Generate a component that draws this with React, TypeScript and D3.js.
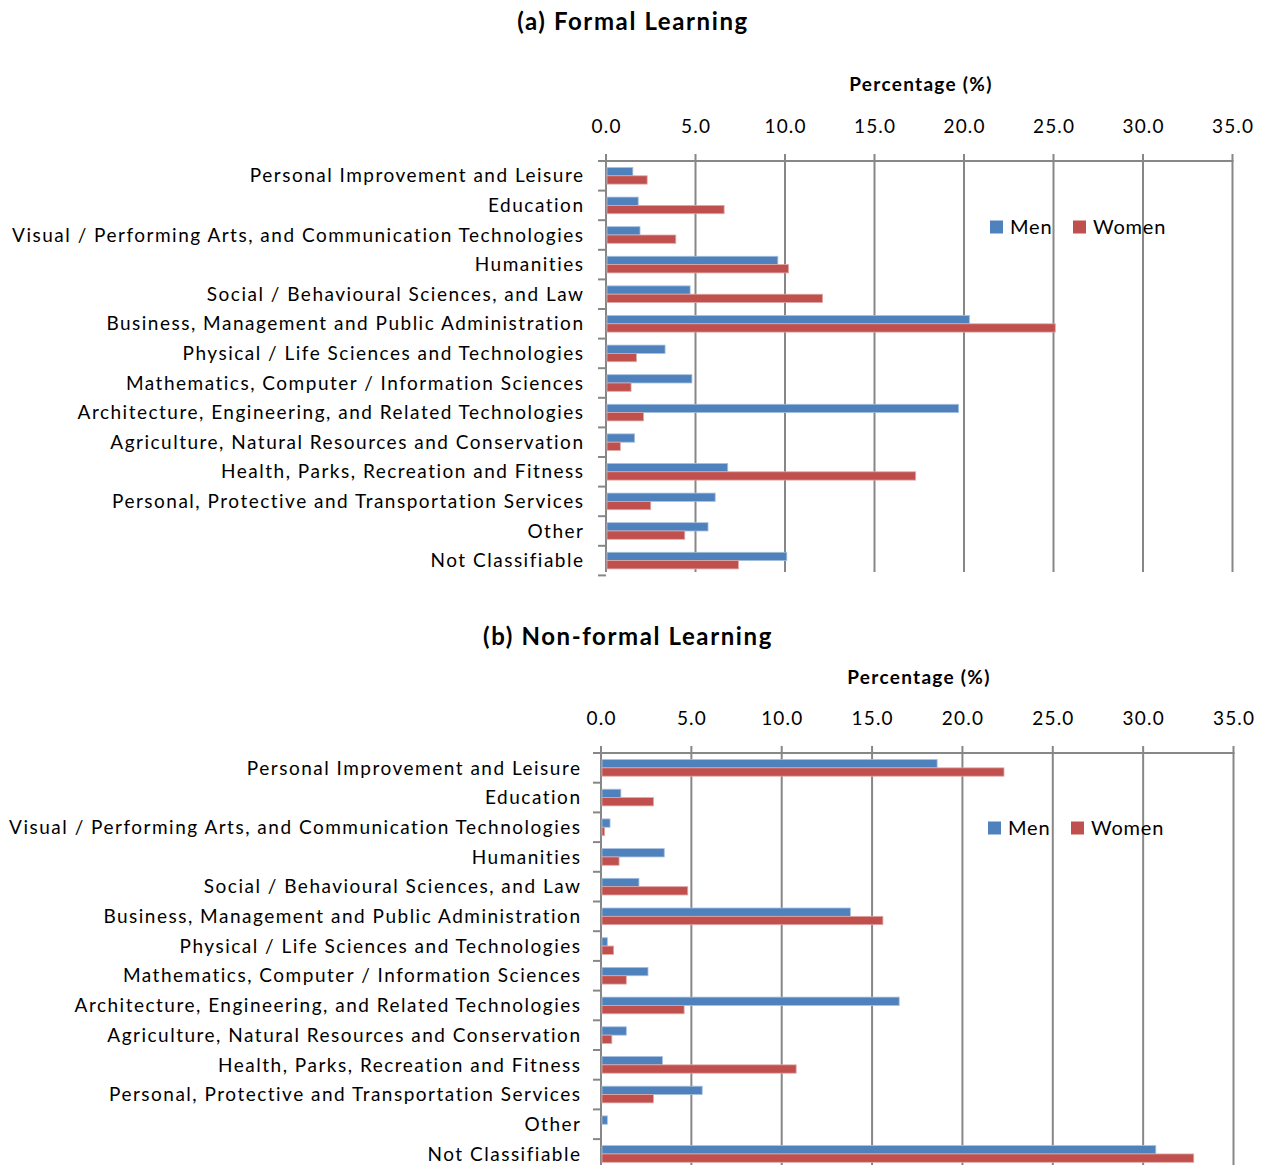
import React from "react";
import * as d3 from "d3";

const categories = [
  "Personal Improvement and Leisure",
  "Education",
  "Visual / Performing Arts, and Communication Technologies",
  "Humanities",
  "Social / Behavioural Sciences, and Law",
  "Business, Management and Public Administration",
  "Physical / Life Sciences and Technologies",
  "Mathematics, Computer  / Information Sciences",
  "Architecture, Engineering, and Related Technologies",
  "Agriculture, Natural Resources and Conservation",
  "Health, Parks, Recreation and Fitness",
  "Personal, Protective and Transportation Services",
  "Other",
  "Not Classifiable",
];

const series = ["Men", "Women"];

const formalMen = [1.5, 1.8, 1.9, 9.6, 4.7, 20.3, 3.3, 4.8, 19.7, 1.6, 6.8, 6.1, 5.7, 10.1];
const formalWomen = [2.3, 6.6, 3.9, 10.2, 12.1, 25.1, 1.7, 1.4, 2.1, 0.8, 17.3, 2.5, 4.4, 7.4];

const nonFormalMen = [18.6, 1.1, 0.5, 3.5, 2.1, 13.8, 0.35, 2.6, 16.5, 1.4, 3.4, 5.6, 0.35, 30.7];
const nonFormalWomen = [22.3, 2.9, 0.2, 1.0, 4.8, 15.6, 0.7, 1.4, 4.6, 0.6, 10.8, 2.9, 0.0, 32.8];

const xTicks = [0, 5, 10, 15, 20, 25, 30, 35];

const colors: Record<string, string> = { Men: "#4F81BD", Women: "#C0504D" };
const strokes: Record<string, string> = { Men: "#A7C0DE", Women: "#E0A8A6" };

const FONT = "Lato, 'Open Sans', sans-serif";
const GRID = "#878787";

type PanelProps = {
  title: string;
  titleX: number;
  titleY: number;
  axisTitleX: number;
  axisTitleY: number;
  tickY: number;
  x0: number;
  x1: number;
  top: number;
  step: number;
  gridBottom: number;
  labelX: number;
  legendX: number;
  legendY: number;
  men: number[];
  women: number[];
};

function Panel(p: PanelProps) {
  const x = d3.scaleLinear().domain([0, 35]).range([p.x0, p.x1]);
  const bottom = p.top + p.step * categories.length;
  const y = d3.scaleBand<string>().domain(categories).range([p.top, bottom]).padding(0);
  const inner = d3
    .scaleBand<string>()
    .domain(series)
    .range([0, y.bandwidth()])
    .paddingInner(0)
    .paddingOuter(0.78);
  const vals: Record<string, number[]> = { Men: p.men, Women: p.women };

  return (
    <g>
      <text
        x={p.titleX}
        y={p.titleY}
        textAnchor="middle"
        fontFamily={FONT}
        fontWeight="bold"
        fontSize={24}
        letterSpacing={1.6}
        fill="#000"
      >
        {p.title}
      </text>
      <text
        x={p.axisTitleX}
        y={p.axisTitleY}
        textAnchor="middle"
        fontFamily={FONT}
        fontWeight="bold"
        fontSize={19}
        letterSpacing={1.3}
        fill="#000"
      >
        Percentage (%)
      </text>
      {xTicks.map((t) => (
        <text
          key={"tl" + t}
          x={x(t) + 0.6}
          y={p.tickY}
          textAnchor="middle"
          fontFamily={FONT}
          fontSize={19}
          letterSpacing={1.2}
          fill="#000"
        >
          {t.toFixed(1)}
        </text>
      ))}
      {/* gridlines */}
      {xTicks.map((t) => (
        <line
          key={"g" + t}
          x1={x(t)}
          x2={x(t)}
          y1={p.top - 7}
          y2={p.gridBottom}
          stroke={GRID}
          strokeWidth={2}
        />
      ))}
      {/* top axis line */}
      <line x1={p.x0 - 7} x2={p.x1 + 1} y1={p.top} y2={p.top} stroke={GRID} strokeWidth={2} />
      {/* category ticks */}
      {d3.range(categories.length + 1).map((i) => (
        <line
          key={"ct" + i}
          x1={p.x0 - 8}
          x2={p.x0}
          y1={p.top + i * p.step}
          y2={p.top + i * p.step}
          stroke={GRID}
          strokeWidth={2}
        />
      ))}
      {/* bars */}
      {categories.map((c, i) =>
        series.map((s) => (
          <rect
            key={c + s}
            x={x(0) + 1}
            y={(y(c) as number) + (inner(s) as number)}
            width={Math.max(0, x(vals[s][i]) - x(0) - 1)}
            height={inner.bandwidth()}
            fill={colors[s]}
            stroke={vals[s][i] > 0 ? strokes[s] : "none"}
            strokeWidth={0.8}
          />
        ))
      )}
      {/* category labels */}
      {categories.map((c) => (
        <text
          key={"cl" + c}
          x={p.labelX + 1.5}
          y={(y(c) as number) + y.bandwidth() / 2}
          dy="0.35em"
          textAnchor="end"
          fontFamily={FONT}
          fontSize={19}
          letterSpacing={1.5}
          fill="#000"
        >
          {c}
        </text>
      ))}
      {/* legend */}
      {series.map((s, i) => {
        const lx = p.legendX + i * 83;
        return (
          <g key={"lg" + s}>
            <rect x={lx} y={p.legendY - 6.5} width={13} height={13} fill={colors[s]} />
            <text
              x={lx + 20}
              y={p.legendY}
              dy="0.35em"
              fontFamily={FONT}
              fontSize={20}
              letterSpacing={0.8}
              fill="#000"
            >
              {s}
            </text>
          </g>
        );
      })}
    </g>
  );
}

export default function App() {
  return (
    <svg
      width={1269}
      height={1165}
      style={{ position: "absolute", left: 0, top: 0, background: "#fff" }}
    >
      <rect x={0} y={0} width={1269} height={1165} fill="#fff" />
      <Panel
        title="(a) Formal Learning"
        titleX={633}
        titleY={30}
        axisTitleX={921}
        axisTitleY={91}
        tickY={133}
        x0={606}
        x1={1232.5}
        top={161}
        step={29.6}
        gridBottom={572}
        labelX={583}
        legendX={990}
        legendY={227}
        men={formalMen}
        women={formalWomen}
      />
      <Panel
        title="(b) Non-formal Learning"
        titleX={628}
        titleY={645}
        axisTitleX={919}
        axisTitleY={684}
        tickY={725}
        x0={601}
        x1={1233.5}
        top={753}
        step={29.7}
        gridBottom={1165}
        labelX={580}
        legendX={988}
        legendY={828}
        men={nonFormalMen}
        women={nonFormalWomen}
      />
    </svg>
  );
}
